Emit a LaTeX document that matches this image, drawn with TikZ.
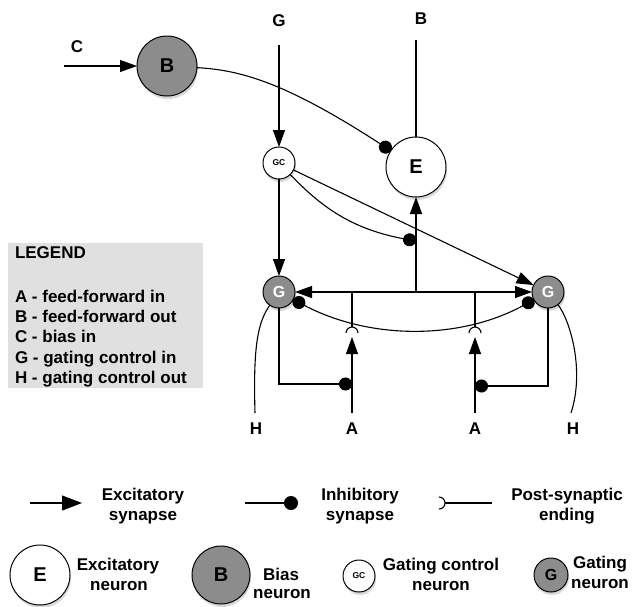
\documentclass[tikz,border=0pt]{standalone}
\usepackage{fontspec}
\setmainfont{Liberation Sans}
\usetikzlibrary{arrows.meta,shadows}
\definecolor{neurgray}{RGB}{140,140,140}
\definecolor{legbox}{RGB}{224,224,224}
\begin{document}
\begin{tikzpicture}[x=1pt,y=-1pt,
  every node/.style={inner sep=0pt, outer sep=0pt},
  lab/.style={font=\bfseries\fontsize{17}{20}\selectfont},
  wire/.style={line width=1.1pt, draw=black},
  exc/.style={wire, -{Triangle[length=17pt,width=12pt]}},
  inh/.style={wire, -{Circle[length=13pt]}},
  inhboth/.style={wire, {Circle[length=13pt]}-{Circle[length=13pt]}},
  excboth/.style={wire, {Triangle[length=17pt,width=12pt]}-{Triangle[length=17pt,width=12pt]}},
  shad/.style={drop shadow={shadow xshift=1pt, shadow yshift=-3pt, opacity=0.3}},
  bigE/.style={circle, draw, line width=1pt, fill=white, minimum size=60pt, shad, font=\bfseries\fontsize{20}{23}\selectfont},
  bigB/.style={bigE, fill=neurgray},
  smallGC/.style={circle, draw, line width=1pt, fill=white, minimum size=32pt, shad, font=\bfseries\fontsize{8.5}{10}\selectfont},
  smallG/.style={circle, draw, line width=1pt, fill=neurgray, minimum size=32pt, shad, text=white, font=\bfseries\fontsize{16}{18}\selectfont},
]
\useasboundingbox (0,0) rectangle (632,606);

% ---------- legend box ----------
\node[fill=legbox, minimum width=195pt, minimum height=145pt, anchor=north west] (legbox) at (8,243) {};
\node[lab, anchor=base west] (lg0) at (15,258) {LEGEND};
\node[lab, anchor=base west] (lg1) at (15,302) {A - feed-forward in};
\node[lab, anchor=base west] (lg2) at (15,322) {B - feed-forward out};
\node[lab, anchor=base west] (lg3) at (15,342.5) {C - bias in};
\node[lab, anchor=base west] (lg4) at (15,363) {G - gating control in};
\node[lab, anchor=base west] (lg5) at (15,383) {H - gating control out};

% ---------- coordinates ----------
\coordinate (cin) at (64,66);
\coordinate (gin) at (279,45);
\coordinate (bout) at (416,40);
\coordinate (j0) at (416,292);
\coordinate (j1) at (352,292);
\coordinate (j2) at (475,292);
\coordinate (k1) at (352,327);
\coordinate (k2) at (475,327);
\coordinate (a1) at (352,413);
\coordinate (a1t) at (352,337);
\coordinate (a2) at (475,413);
\coordinate (a2t) at (475,337);
\coordinate (p1) at (352,384);
\coordinate (p2) at (475,386);
\coordinate (h1) at (255,413);
\coordinate (h2) at (571,413);
\coordinate (eIn) at (416,241);

% ---------- main neurons ----------
\node[bigB] (nB) at (167,66) {B};
\node[bigE] (nE) at (416,167) {E};
\node[smallGC] (nGC) at (279,163) {GC};
\node[smallG] (nGL) at (279,292) {G};
\node[smallG] (nGR) at (548,292) {G};

% ---------- labels ----------
\node[lab] (tC) at (77,47) {C};
\node[lab] (tG) at (279,21) {G};
\node[lab] (tB) at (421,19) {B};
\node[lab] (tH1) at (256,429) {H};
\node[lab] (tA1) at (352,429) {A};
\node[lab] (tA2) at (475,429) {A};
\node[lab] (tH2) at (573,429) {H};

% ---------- connectors ----------
\draw[exc] (cin) -- (nB);
\draw[exc] (gin) -- (nGC);
\draw[wire] (nE) -- (bout);
\draw[inh] (nB) .. controls (240,70) and (285,82) .. (nE);
\draw[exc] (nGC) -- (nGL);
\draw[exc] (nGC) -- (nGR);
\draw[inh] (nGC) .. controls (315,200) and (345,228) .. (eIn);
\draw[excboth] (nGL) -- (nGR);
\draw[exc] (j0) -- (nE);
\draw[wire] (j1) -- (k1);
\draw[wire] (j2) -- (k2);
\draw[wire] (346,333) arc[start angle=180, end angle=360, radius=6];
\draw[wire] (469,333) arc[start angle=180, end angle=360, radius=6];
\draw[exc] (a1) -- (a1t);
\draw[exc] (a2) -- (a2t);
\draw[inh] (nGL) |- (p1);
\draw[inh] (nGR) |- (p2);
\draw[inhboth] (nGL) .. controls (370,340) and (460,340) .. (nGR);
\draw[wire] (nGL) .. controls (258,322) and (253,345) .. (h1);
\draw[wire] (nGR) .. controls (570,320) and (585,370) .. (h2);

% ---------- bottom legend, row 1 ----------
\coordinate (lx1) at (30,503);
\coordinate (lx2) at (82,503);
\draw[wire, -{Triangle[length=20pt,width=15pt]}] (lx1) -- (lx2);
\node[lab, anchor=base] (t1a) at (143,500) {Excitatory};
\node[lab, anchor=base] (t1b) at (143,520) {synapse};
\coordinate (li1) at (245,503);
\coordinate (li2) at (298,503);
\draw[wire, -{Circle[length=14pt]}] (li1) -- (li2);
\node[lab, anchor=base] (t2a) at (360,500) {Inhibitory};
\node[lab, anchor=base] (t2b) at (360,520) {synapse};
\draw[wire] (439,497) arc[start angle=-90, end angle=90, radius=6];
\coordinate (lp1) at (445,503);
\coordinate (lp2) at (492,503);
\draw[wire] (lp1) -- (lp2);
\node[lab, anchor=base] (t3a) at (567,500) {Post-synaptic};
\node[lab, anchor=base] (t3b) at (567,520) {ending};

% ---------- bottom legend, row 2 ----------
\node[bigE] (lE) at (40,575) {E};
\node[lab, anchor=base] (t4a) at (118,570) {Excitatory};
\node[lab, anchor=base] (t4b) at (119,590) {neuron};
\node[bigB, minimum size=58pt] (lB) at (221,575) {B};
\node[lab, anchor=base] (t5a) at (281,580) {Bias};
\node[lab, anchor=base] (t5b) at (282,598) {neuron};
\node[smallGC] (lGC) at (359,576) {GC};
\node[lab, anchor=base] (t6a) at (441,570) {Gating control};
\node[lab, anchor=base] (t6b) at (441,590) {neuron};
\node[smallG, text=black, minimum size=34pt] (lG) at (551,575) {G};
\node[lab, anchor=base] (t7a) at (600,568) {Gating};
\node[lab, anchor=base] (t7b) at (600,588) {neuron};
\end{tikzpicture}
\end{document}
